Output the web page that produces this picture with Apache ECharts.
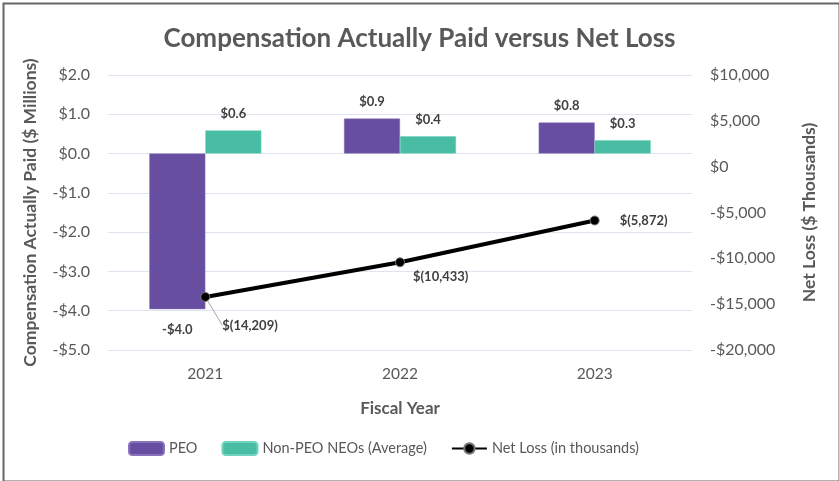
<!DOCTYPE html>
<html>
<head>
<meta charset="utf-8">
<script src="https://cdn.jsdelivr.net/npm/echarts@6/dist/echarts.min.js"></script>
<style>
  html, body { margin: 0; padding: 0; background: #fff; }
  #chart { width: 839px; height: 481px; }
</style>
</head>
<body>
<div id="chart"></div>
<script>
const years = ['2021', '2022', '2023'];
const peoPaid = [-3.96, 0.89, 0.79];          // $ millions
const nonPeoPaid = [0.59, 0.44, 0.34];        // $ millions
const netLoss = [-14209, -10433, -5872];      // $ thousands

const leftMin = -5, leftMax = 2, leftStep = 1;
const rightMin = -20000, rightMax = 10000, rightStep = 5000;

const textGrey = '#595959';
const fontName = 'Lato';

function money1(v) {
	return (v < 0 ? '-$' : '$') + Math.abs(v).toFixed(1);
}
function moneyK(v) {
	return (v < 0 ? '-$' : '$') + Math.abs(v).toLocaleString('en-US');
}
function paren(v) {
	return '$(' + Math.abs(v).toLocaleString('en-US') + ')';
}

let myChart = echarts.init(document.getElementById('chart'));

// label placement for the line points
const lossLabels = [
	{ position: [22, 27], labelLine: true },
	{ position: [18, 13], labelLine: false },
	{ position: 'right', labelLine: false }
];

let option = {
	textStyle: { fontFamily: fontName },
	title: {
		text: 'Compensation Actually Paid versus Net Loss',
		left: 'center',
		top: 21,
		textStyle: { fontSize: 26, fontWeight: 'bold', color: textGrey, fontFamily: fontName }
	},
	legend: {
		top: 436,
		left: 123,
		itemWidth: 35,
		itemHeight: 13,
		itemGap: 24,
		textStyle: { fontSize: 14.5, color: textGrey, fontFamily: fontName },
		data: ['PEO', 'Non-PEO NEOs (Average)', 'Net Loss (in thousands)']
	},
	grid: { left: 108, right: 147, top: 75, bottom: 131 },
	xAxis: {
		type: 'category',
		data: years,
		name: 'Fiscal Year',
		nameLocation: 'middle',
		nameGap: 50,
		nameTextStyle: { fontSize: 17, fontWeight: 'bold', color: textGrey },
		axisLine: { show: false },
		axisTick: { show: false },
		axisLabel: { fontSize: 15.5, color: textGrey, margin: 16 }
	},
	yAxis: [
		{
			type: 'value',
			min: leftMin, max: leftMax, interval: leftStep,
			name: 'Compensation Actually Paid ($ Millions)',
			nameLocation: 'middle',
			nameGap: 69,
			nameTextStyle: { fontSize: 17.5, fontWeight: 'bold', color: textGrey },
			axisLabel: { fontSize: 16, color: textGrey, margin: 18, formatter: money1 },
			axisLine: { show: false },
			axisTick: { show: false },
			splitLine: { lineStyle: { color: '#dfe4ef', width: 1 } }
		},
		{
			type: 'value',
			min: rightMin, max: rightMax, interval: rightStep,
			name: 'Net Loss ($ Thousands)',
			nameLocation: 'middle',
			nameGap: 108,
			nameRotate: 90,
			nameTextStyle: { fontSize: 17.5, fontWeight: 'bold', color: textGrey },
			axisLabel: { fontSize: 16, color: textGrey, margin: 18, formatter: moneyK },
			axisLine: { show: false },
			axisTick: { show: false },
			splitLine: { show: false }
		}
	],
	series: [
		{
			name: 'PEO',
			type: 'bar',
			yAxisIndex: 0,
			barWidth: 56,
			barGap: '0%',
			itemStyle: { color: '#674ea0', borderColor: '#8a73bd', borderWidth: 0.5 },
			data: peoPaid.map(v => ({
				value: v,
				label: { position: v < 0 ? 'bottom' : 'top', distance: v < 0 ? 14 : 10 }
			})),
			label: {
				show: true,
				distance: 10,
				fontSize: 13,
				fontWeight: 'bold',
				color: '#404040',
				formatter: p => money1(p.value)
			}
		},
		{
			name: 'Non-PEO NEOs (Average)',
			type: 'bar',
			yAxisIndex: 0,
			barWidth: 56,
			barGap: '0%',
			itemStyle: { color: '#48bda4', borderColor: '#6fd3bd', borderWidth: 0.5 },
			data: nonPeoPaid,
			label: {
				show: true,
				position: 'top',
				distance: 10,
				fontSize: 13,
				fontWeight: 'bold',
				color: '#404040',
				formatter: p => money1(p.value)
			}
		},
		{
			name: 'Net Loss (in thousands)',
			type: 'line',
			yAxisIndex: 1,
			symbol: 'circle',
			symbolSize: 9,
			z: 5,
			lineStyle: { color: '#000', width: 4 },
			itemStyle: { color: '#000', borderColor: '#777', borderWidth: 1 },
			data: netLoss.map((v, i) => ({
				value: v,
				label: { position: lossLabels[i].position },
				labelLine: { show: lossLabels[i].labelLine, lineStyle: { color: '#a6a6a6', width: 1 } }
			})),
			label: {
				show: true,
				distance: 20,
				fontSize: 13,
				fontWeight: 'bold',
				color: '#404040',
				formatter: p => paren(p.value)
			}
		}
	],
	graphic: [
		{
			type: 'rect',
			left: 1, top: 1,
			shape: { width: 836, height: 478 },
			style: { fill: 'none', stroke: '#666', lineWidth: 2 },
			silent: true
		}
	]
};

myChart.setOption(option);
</script>
</body>
</html>
